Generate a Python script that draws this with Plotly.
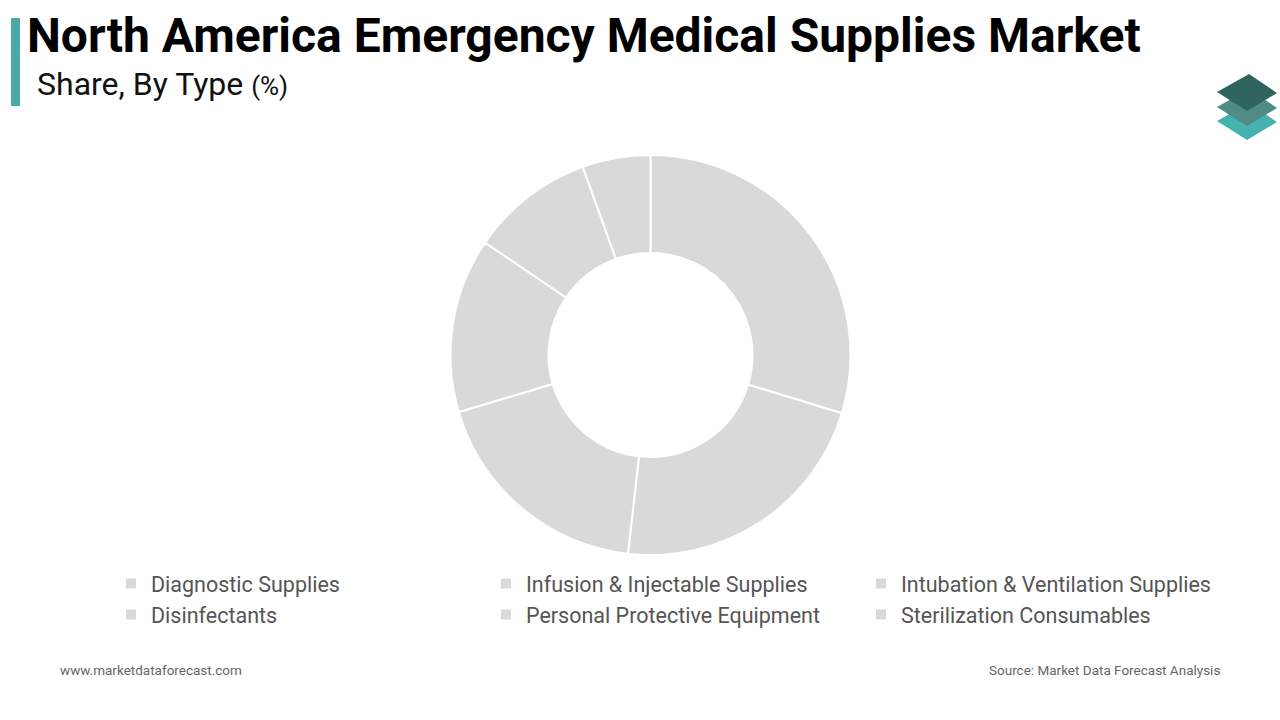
import plotly.graph_objects as go

categories = [
    "Diagnostic Supplies",
    "Infusion & Injectable Supplies",
    "Intubation & Ventilation Supplies",
    "Disinfectants",
    "Personal Protective Equipment",
    "Sterilization Consumables",
]
shares = [29.7, 22.1, 18.6, 14.1, 10.0, 5.5]

W, H = 1280, 720


def px(x):
    return x / W


def py(y):
    return 1 - y / H


fig = go.Figure()
fig.add_trace(go.Pie(
    labels=categories,
    values=shares,
    sort=False,
    direction="clockwise",
    rotation=0,
    hole=0.51,
    textinfo="none",
    marker=dict(colors=["#d9d9d9"] * len(categories), line=dict(color="white", width=2)),
    domain=dict(x=[px(450), px(851)], y=[py(555), py(155)]),
))

shapes = [
    dict(type="rect", xref="paper", yref="paper", x0=px(11), x1=px(20), y0=py(106), y1=py(18),
         fillcolor="#4aa8a8", line=dict(width=0)),
]


def diamond(dy, color):
    pts = [(1249, 74 + dy), (1277, 93 + dy), (1247, 111 + dy), (1217, 92 + dy)]
    path = "M " + " L ".join(f"{px(x)},{py(y)}" for x, y in pts) + " Z"
    return dict(type="path", xref="paper", yref="paper", path=path, fillcolor=color, line=dict(width=0))


shapes += [diamond(29, "#45b2b0"), diamond(15, "#4f8c86"), diamond(0, "#2f655e")]

annotations = [
    dict(text="<b>North America Emergency Medical Supplies Market</b>", x=px(25), y=py(35),
         xref="paper", yref="paper", xanchor="left", yanchor="middle", showarrow=False,
         font=dict(family="Roboto", size=48, color="#000000")),
    dict(text="Share, By Type <span style='font-size:26px'>(%)</span>", x=px(35), y=py(84),
         xref="paper", yref="paper", xanchor="left", yanchor="middle", showarrow=False,
         font=dict(family="Roboto", size=32, color="#111111")),
    dict(text="www.marketdataforecast.com", x=px(58), y=py(670),
         xref="paper", yref="paper", xanchor="left", yanchor="middle", showarrow=False,
         font=dict(family="Roboto", size=13.5, color="#666666")),
    dict(text="Source: Market Data Forecast Analysis", x=px(1222), y=py(670),
         xref="paper", yref="paper", xanchor="right", yanchor="middle", showarrow=False,
         font=dict(family="Roboto", size=13.5, color="#666666")),
]

fig.update_layout(
    width=W, height=H,
    margin=dict(l=0, r=0, t=0, b=0),
    paper_bgcolor="white", plot_bgcolor="white",
    shapes=shapes,
    annotations=annotations,
    showlegend=True,
    legend=dict(
        orientation="h",
        x=px(111), y=py(563), xanchor="left", yanchor="top",
        entrywidth=330, entrywidthmode="pixels",
        font=dict(family="Roboto", size=21.5, color="#555555"),
        traceorder="normal",
    ),
)

fig.write_html("out.html", config={"displayModeBar": False},
               post_script="document.body.style.margin='0';")
